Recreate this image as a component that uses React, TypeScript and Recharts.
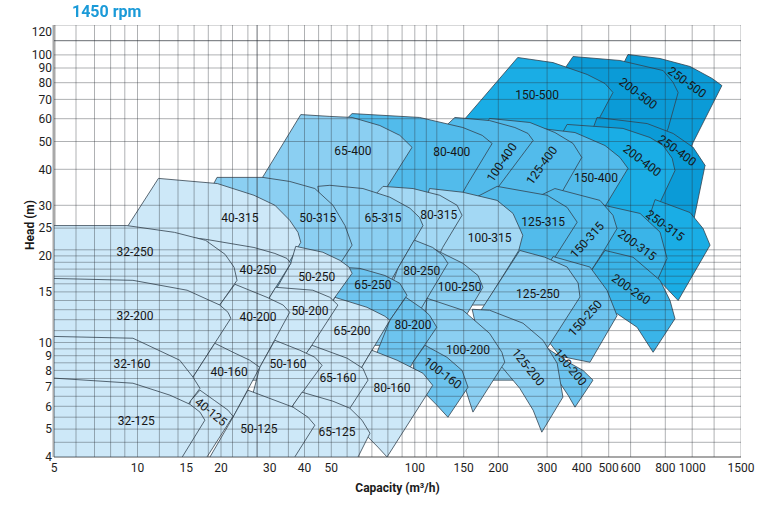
import React from "react";
import { ScatterChart, Scatter, XAxis, YAxis } from "recharts";

type Pt = [number, number];

// Pump fields as [Q m3/h, H m] corners.
// Order inside each array: top curve left->right, right edge, then bottom back to the left.
const p250_500: Pt[] = [[587, 100.3], [766, 97.1], [983, 91.1], [1180, 82.8], [1280, 78.2], [1008, 49.6], [904, 38.1], [527, 38.1], [527, 81.4]];
const p200_500: Pt[] = [[372, 98.7], [549, 95.6], [786, 88.2], [854, 80.2], [890, 74], [819, 55.5], [705, 39.6], [334, 39.6], [334, 84.8]];
const p150_500: Pt[] = [[235, 97.9], [315, 94], [418, 85.5], [485, 79.5], [518, 74], [454, 58.2], [334, 33.8], [123, 33.8], [123, 46.5], [152, 60.1]];

const p250_400: Pt[] = [[454, 60.6], [688, 57.7], [854, 53.3], [1008, 47.7], [1113, 41.3], [1008, 26], [967, 22.7], [411, 22.7], [411, 46.5]];
const p200_400: Pt[] = [[354, 57.3], [563, 55.5], [705, 51.6], [786, 48.4], [847, 43.7], [867, 39.6], [772, 31.2], [676, 24.5], [307, 25.5], [307, 44.7]];
const p150_400: Pt[] = [[283, 55.5], [378, 53.7], [485, 48.4], [549, 44], [587, 40.3], [493, 30.5], [428, 24.5], [239, 24.5], [239, 42.9]];
const p125_400: Pt[] = [[186, 60.1], [260, 58.2], [320, 53.7], [372, 49.2], [400, 44], [326, 31.2], [283, 25.5], [158, 25.5], [158, 46.5]];
const p100_400: Pt[] = [[139.5, 60.6], [186, 59.1], [229.5, 55.9], [256, 53.3], [267, 50.4], [198, 34.3], [172, 27.7], [104, 27.7], [104, 46.5]];
const p80_400: Pt[] = [[59.4, 62.5], [104, 60.6], [149, 55.9], [175, 52.5], [190, 49.2], [154, 35.2], [134, 27.7], [49.4, 27.7], [49.4, 50.4], [56, 59.1]];
const p65_400: Pt[] = [[38.8, 62], [49.4, 61.1], [59.4, 60.6], [74.8, 56.8], [88.3, 52.5], [97.7, 47.7], [78, 33.8], [63.4, 24.5], [23.4, 24.5], [23.4, 27.7], [28.1, 37.2]];

const p250_315: Pt[] = [[735, 31.4], [983, 28.3], [1095, 24.9], [1160, 21.8], [890, 14], [786, 15.9], [694, 17.1], [694, 26.6]];
const p200_315: Pt[] = [[446, 30.5], [649, 28.1], [766, 24.2], [812, 19.6], [754, 16.7], [676, 14], [428, 14], [428, 26.6]];
const p150_315: Pt[] = [[320, 34.3], [465, 31.2], [518, 27.7], [536, 24.9], [481, 20.9], [428, 17.5], [394, 14.6], [260, 14.6], [260, 31.2]];
const p125_315: Pt[] = [[198, 34.9], [300, 32.5], [354, 29.5], [385, 26.2], [320, 19.8], [271, 15.2], [158, 15.2], [158, 31.2]];
const p100_315: Pt[] = [[113, 34.3], [149, 33.3], [198, 31.2], [226, 28.1], [245, 23.6], [237, 20.9], [179, 13.5], [104, 13.5], [104, 26.6]];
const p80_315: Pt[] = [[76.8, 34.9], [98.5, 34.3], [123, 32.5], [142, 30], [148, 27.7], [126, 21.4], [109, 15.8], [68.9, 15.8], [68.9, 31.2]];
const p65_315: Pt[] = [[44.7, 34.9], [49.4, 35.2], [65, 34.3], [81.3, 32], [96, 29.3], [104, 27.2], [107, 25.5], [86.9, 18.1], [74.8, 14], [45.5, 14], [45.5, 31.2]];
const p50_315: Pt[] = [[19.35, 37.5], [28.3, 37.5], [35.4, 36.3], [43.6, 34.3], [50.7, 30], [56, 25.5], [59.4, 21.8], [52.8, 18.3], [45.5, 14], [16.8, 14], [16.8, 28.8]];
const p40_315: Pt[] = [[11.9, 37.2], [19.4, 35.7], [26.3, 32.5], [31.3, 30], [35.4, 26.6], [37.9, 24.15], [38.8, 22.3], [35.2, 19], [27.6, 12.9], [7.95, 12.9], [7.95, 20.1], [9.25, 25.5]];

const p200_260: Pt[] = [[485, 20.9], [612, 19.8], [766, 16.45], [832, 14], [867, 12.1], [723, 9.25], [633, 11.3], [536, 12.6], [465, 11], [428, 17.5]];

const p150_250: Pt[] = [[315, 19.9], [428, 18.3], [493, 15.2], [536, 12.4], [428, 8.54], [334, 8.96], [283, 11], [283, 16.45]];
const p125_250: Pt[] = [[239, 20.9], [294, 19.8], [354, 18.3], [388, 16.1], [394, 14.4], [300, 9.55], [251, 7.4], [158, 7.4], [158, 11], [175, 13.15]];
const p100_250: Pt[] = [[109, 21.6], [120, 20.9], [149, 18.85], [169, 17.1], [176, 15.56], [155.5, 12.74], [123, 9.03], [96, 9.03], [96, 16.45]];
const p80_250: Pt[] = [[99.5, 22.7], [116, 21.4], [126, 20.1], [131.6, 18.85], [106, 13.26], [88.3, 9.78], [68.9, 9.78], [86.9, 18.1]];
const p65_250: Pt[] = [[52.8, 18.3], [63.4, 18.1], [78, 17.1], [88.3, 16.06], [93.7, 14.6], [81.3, 11.95], [68.9, 9.4], [49.4, 9.4], [51.5, 14.36]];
const p50_250: Pt[] = [[37.2, 21.6], [46.6, 20.6], [53.7, 19.3], [57.9, 18.3], [59.4, 17.4], [51.5, 14.36], [43.6, 11], [30, 11], [30, 14], [35.7, 18.85]];
const p40_250: Pt[] = [[15.45, 23.2], [17.6, 22.85], [26.3, 21.4], [31.3, 20.4], [34.6, 19.6], [35.7, 18.85], [29.8, 14.25], [21.5, 8], [12.05, 8], [12.05, 14]];
const p32_250: Pt[] = [[5, 25.5], [9.16, 25.5], [13.6, 24.15], [17.6, 22.66], [20.7, 20.25], [22.3, 18.26], [22.85, 16.45], [19.8, 13.5], [8.64, 4], [5, 4]];

const p150_200: Pt[] = [[300, 9.55], [363, 8.47], [404, 8], [439, 7.4], [378, 5.96], [357, 6.56], [334, 7.22], [294.5, 8]];
const p125_200: Pt[] = [[161, 13.05], [186, 12.95], [245.5, 11.67], [290, 10.18], [326, 8.47], [342, 6.46], [287, 4.88], [267, 5.82], [239, 6.93], [208, 8.13], [172, 9.78]];
const p100_200: Pt[] = [[110.6, 14.25], [149, 12.95], [186, 10.76], [206, 9.25], [211, 8.54], [162, 5.73], [151.6, 6.99], [123, 8], [98.5, 8.54], [108.8, 11.95]];
const p80_200: Pt[] = [[92.8, 14.36], [106, 13.15], [113, 12.44], [120, 11.3], [98.5, 8.54], [84.8, 6.56], [63.4, 6.56], [81.3, 11.95]];
const p65_200: Pt[] = [[51.5, 14.36], [67.2, 13.26], [78, 12.34], [81.3, 11.95], [63.4, 8], [53.7, 6.3], [38.5, 6.3], [41.85, 9.55]];
const p50_200: Pt[] = [[31.5, 15.56], [42.9, 15.2], [49.4, 14.36], [52.8, 13.5], [41.85, 9.55], [35.4, 7.4], [25.4, 7.4], [29.8, 14.25]];
const p40_200: Pt[] = [[22.45, 15.94], [29.3, 14.36], [33.5, 13.5], [35.4, 12.74], [27.6, 8.2], [19, 4.96], [14.2, 4.96], [19.8, 13.5]];
const p32_200: Pt[] = [[5, 16.7], [9.63, 16.45], [15.1, 15.2], [19.8, 13.5], [21.2, 12.74], [21.7, 12.14], [15.85, 7.58], [10.3, 4], [5, 4]];

const p100_160: Pt[] = [[108.8, 9.78], [130.5, 8.89], [148, 8], [155.5, 6.99], [131.6, 5.5], [120, 6.06], [110.6, 6.56], [100, 7.4], [98.5, 8.54]];
const p80_160: Pt[] = [[70, 9.4], [86.3, 8.68], [107, 7.82], [116, 7.1], [79.4, 4], [73.6, 4.33], [67.8, 4.69], [56, 5.37], [58.3, 6.56], [63.4, 8]];
const p65_160: Pt[] = [[42.6, 9.78], [57, 8.82], [65, 8.13], [67.8, 7.4], [58.3, 5.91], [45.5, 4.1], [35.4, 4.1], [40.1, 9.03]];
const p50_160: Pt[] = [[31.3, 10.18], [38.5, 9.4], [43.6, 8.89], [46.3, 8.33], [36.4, 6.06], [30, 4.44], [23.4, 4.44], [27.6, 8.2]];
const p40_160: Pt[] = [[19, 9.94], [22.1, 9.25], [25.4, 8.68], [27.6, 8.2], [22.1, 5.5], [16.8, 4], [12.05, 4], [15.85, 7.58]];
const p32_160: Pt[] = [[5, 10.5], [9.63, 10.35], [14.2, 8.68], [15.85, 7.58], [16.8, 6.93], [15.6, 6.3], [11.1, 4], [5, 4]];

const p65_125: Pt[] = [[39.2, 6.72], [50.7, 6.25], [58.3, 5.91], [64.5, 5.37], [68.9, 4.84], [62.4, 4], [32.6, 4], [36.4, 6.06]];
const p50_125: Pt[] = [[25, 6.83], [36.4, 5.96], [41.2, 5.5], [43.6, 5.16], [36.9, 4], [18.25, 4], [22.1, 5.5]];
const p40_125: Pt[] = [[16.8, 6.83], [18.9, 6.3], [21.2, 5.82], [22.1, 5.54], [17.8, 4], [13.1, 4], [15.6, 6.3]];
const p32_125: Pt[] = [[5, 7.52], [9.63, 7.22], [13.1, 6.56], [15.45, 6.1], [16.8, 5.73], [17.5, 5.37], [14.5, 4], [5, 4]];

// label name, Q, H
const labelPoints: [string, number, number][] = [
  ["32-250", 9.8, 20.7], ["32-200", 9.8, 12.4], ["32-160", 9.55, 8.4], ["32-125", 9.9, 5.33],
  ["40-315", 23.4, 27.2], ["40-250", 27.2, 17.8], ["40-200", 27.2, 12.24], ["40-160", 21.4, 7.88], ["40-125", 18.4, 5.73],
  ["50-315", 44.7, 27.2], ["50-250", 44.3, 16.85], ["50-200", 41.85, 12.84], ["50-160", 34.9, 8.4], ["50-125", 27.4, 5.0],
  ["65-400", 59.8, 46.5], ["65-315", 76.8, 27.2], ["65-250", 70.6, 15.8], ["65-200", 59.4, 10.94], ["65-160", 52.8, 7.52], ["65-125", 52.4, 4.88],
  ["80-400", 136, 45.8], ["80-315", 122, 27.7], ["80-250", 106, 17.7], ["80-200", 98.5, 11.5], ["80-160", 82.7, 6.93],
  ["100-400", 206, 42.3], ["100-315", 186, 23], ["100-250", 145, 15.56], ["100-200", 155.5, 9.4], ["100-160", 126, 7.82],
  ["125-400", 287, 41.3], ["125-315", 290, 26.2], ["125-250", 278, 14.7], ["125-200", 256, 8.2],
  ["150-500", 276, 72.8], ["150-400", 450, 37.2], ["150-315", 418, 22.7], ["150-250", 411, 12.14], ["150-200", 363, 8.2],
  ["200-500", 638, 73.4], ["200-400", 660, 42.9], ["200-315", 633, 21.8], ["200-260", 602, 15.3],
  ["250-500", 958, 80.2], ["250-400", 883, 46.5], ["250-315", 798, 25.5],
];

const xTicks = [5, 10, 15, 20, 30, 40, 50, 100, 150, 200, 300, 400, 500, 600, 800, 1000, 1500];
const yTicks = [4, 5, 6, 7, 8, 9, 10, 15, 20, 25, 30, 40, 50, 60, 70, 80, 90, 100, 120];
const gridQ = [6, 7, 8, 9, 10, 12, 14, 16, 18, 20, 22, 25, 27, 30, 35, 40, 45, 50, 57, 63, 70, 80, 90, 100, 110, 120, 150, 200, 300, 400, 500, 600, 800, 1000, 1200, 1500];
const gridH = [4.5, 5, 5.5, 6, 6.5, 7, 7.5, 8, 8.5, 9, 9.5, 10, 11, 12, 13, 14, 15, 16, 17, 18, 19, 20, 21, 25, 30, 40, 50, 60, 70, 80, 90, 100, 112, 127];

const PALE = "#cde8f8";
const LIGHT = "#a3d8f4";
const MID = "#8bcff2";
const MIDDARK = "#6dc4ef";
const BLUE = "#52bbeb";
const BLUE2 = "#3ab4e8";
const BRIGHT = "#1aade5";
const DEEP = "#0b9bd7";

// back to front: bigger impeller first, then bigger branch first
const fields: [string, Pt[], string][] = [
  ["250-500", p250_500, DEEP], ["200-500", p200_500, DEEP], ["150-500", p150_500, BRIGHT],
  ["250-400", p250_400, DEEP], ["200-400", p200_400, BRIGHT], ["150-400", p150_400, BLUE],
  ["125-400", p125_400, BLUE], ["100-400", p100_400, BLUE], ["80-400", p80_400, BLUE], ["65-400", p65_400, MID],
  ["250-315", p250_315, BRIGHT], ["200-315", p200_315, BLUE2], ["150-315", p150_315, BLUE], ["125-315", p125_315, BLUE],
  ["100-315", p100_315, LIGHT], ["80-315", p80_315, LIGHT], ["65-315", p65_315, MID], ["50-315", p50_315, MID], ["40-315", p40_315, PALE],
  ["200-260", p200_260, BLUE2],
  ["150-250", p150_250, MIDDARK], ["125-250", p125_250, MID], ["100-250", p100_250, MID], ["80-250", p80_250, MID],
  ["65-250", p65_250, MIDDARK], ["50-250", p50_250, PALE], ["40-250", p40_250, PALE], ["32-250", p32_250, PALE],
  ["150-200", p150_200, MIDDARK], ["125-200", p125_200, MID], ["100-200", p100_200, MID], ["80-200", p80_200, MIDDARK],
  ["65-200", p65_200, PALE], ["50-200", p50_200, PALE], ["40-200", p40_200, PALE], ["32-200", p32_200, PALE],
  ["100-160", p100_160, MIDDARK], ["80-160", p80_160, PALE], ["65-160", p65_160, PALE], ["50-160", p50_160, PALE],
  ["40-160", p40_160, PALE], ["32-160", p32_160, PALE],
  ["65-125", p65_125, PALE], ["50-125", p50_125, PALE], ["40-125", p40_125, PALE], ["32-125", p32_125, PALE],
];

const labelAngle: Record<string, number> = {
  "40-125": 39, "100-160": 37, "100-400": -56, "125-400": -54, "125-200": 51, "150-200": 50,
  "150-250": -48, "150-315": -48, "200-500": 37, "250-500": 36, "250-400": 36, "200-400": 37,
  "250-315": 36, "200-315": 36, "200-260": 35,
};

const FONT = "Roboto, 'DejaVu Sans', sans-serif";

const toRows = (pts: Pt[]) => pts.map(([x, y]) => ({ x, y }));

const polygon = (fill: string) => (props: any) => {
  const pts: { x: number; y: number }[] = props.points || [];
  if (!pts.length) return <g />;
  const d = pts.map((p, i) => `${i ? "L" : "M"}${p.x.toFixed(2)},${p.y.toFixed(2)}`).join("") + "Z";
  return <path d={d} fill={fill} stroke="#34434f" strokeWidth={0.8} strokeLinejoin="round" />;
};

// draws the point list two at a time as separate segments
const makeSegments = (opacity: number, width: number) => (props: any) => {
  const pts: { x: number; y: number }[] = props.points || [];
  let d = "";
  for (let i = 0; i + 1 < pts.length; i += 2) {
    d += `M${pts[i].x.toFixed(1)},${pts[i].y.toFixed(1)}L${pts[i + 1].x.toFixed(1)},${pts[i + 1].y.toFixed(1)}`;
  }
  return <path d={d} fill="none" stroke="#2a2f35" strokeOpacity={opacity} strokeWidth={width} />;
};

const segments = makeSegments(0.42, 0.9);
const heavySegments = makeSegments(0.7, 1);

const noDot = () => <g />;

const fieldLabel = (p: any) => {
  const name: string = p.payload.name;
  const a = labelAngle[name] || 0;
  return (
    <text
      x={p.cx}
      y={p.cy}
      transform={a ? `rotate(${a} ${p.cx} ${p.cy})` : undefined}
      textAnchor="middle"
      dominantBaseline="central"
      fontSize={12}
      fill="#161616"
      fontFamily={FONT}
    >
      {name}
    </text>
  );
};

const heavyQ = [27];
const heavyH = [112];

export default function App() {
  const vLines = gridQ.filter((q) => !heavyQ.includes(q)).flatMap((q) => [{ x: q, y: 4 }, { x: q, y: 127 }]);
  const hLines = gridH.filter((h) => !heavyH.includes(h)).flatMap((h) => [{ x: 5, y: h }, { x: 1500, y: h }]);
  const heavy = [
    ...heavyQ.flatMap((q) => [{ x: q, y: 4 }, { x: q, y: 127 }]),
    ...heavyH.flatMap((h) => [{ x: 5, y: h }, { x: 1500, y: h }]),
  ];
  const labels = labelPoints.map(([name, x, y]) => ({ name, x, y }));

  return (
    <div style={{ position: "relative", width: 757, height: 499, fontFamily: FONT }}>
      <ScatterChart width={757} height={499} margin={{ top: 17, right: 24, bottom: 0, left: 0 }}>
        <XAxis
          type="number"
          dataKey="x"
          scale="log"
          domain={[5, 1500]}
          allowDataOverflow
          ticks={xTicks}
          interval={0}
          height={50}
          tickLine={false}
          tickSize={6}
          tickMargin={0}
          axisLine={{ stroke: "#8a8a8a", strokeWidth: 1.5 }}
          tick={{ fontSize: 12, fill: "#1e1e1e", fontFamily: FONT }}
          label={{ value: "Capacity (m³/h)", position: "insideBottom", offset: 15, fontSize: 12, fontWeight: 700, fill: "#1a1a1a", fontFamily: FONT }}
        />
        <YAxis
          type="number"
          dataKey="y"
          scale="log"
          domain={[4, 127]}
          allowDataOverflow
          ticks={yTicks}
          interval={0}
          width={46}
          tickLine={false}
          tickSize={0}
          tickMargin={2}
          axisLine={{ stroke: "#a9a9a9", strokeWidth: 3 }}
          tick={{ fontSize: 12, fill: "#1e1e1e", fontFamily: FONT }}
        />
        {fields.map(([name, pts, fill]) => (
          <Scatter
            key={name}
            name={name}
            data={toRows(pts)}
            line={polygon(fill)}
            lineType="joint"
            shape={noDot}
            isAnimationActive={false}
          />
        ))}
        <Scatter key="grid-v" data={vLines} line={segments} lineType="joint" shape={noDot} isAnimationActive={false} />
        <Scatter key="grid-h" data={hLines} line={segments} lineType="joint" shape={noDot} isAnimationActive={false} />
        <Scatter key="grid-heavy" data={heavy} line={heavySegments} lineType="joint" shape={noDot} isAnimationActive={false} />
        <Scatter key="labels" data={labels} shape={fieldLabel} isAnimationActive={false} />
      </ScatterChart>
      <div
        style={{
          position: "fixed",
          left: 72,
          top: 3,
          zIndex: 5,
          fontSize: 16,
          lineHeight: "18px",
          fontWeight: 700,
          color: "#1a9ad8",
          whiteSpace: "nowrap",
        }}
      >
        1450 rpm
      </div>
      <div
        style={{
          position: "absolute",
          left: 22,
          top: 217,
          zIndex: 5,
          transform: "translate(-50%, -50%) rotate(-90deg)",
          fontSize: 12,
          fontWeight: 700,
          color: "#1a1a1a",
          whiteSpace: "nowrap",
        }}
      >
        Head (m)
      </div>
    </div>
  );
}
